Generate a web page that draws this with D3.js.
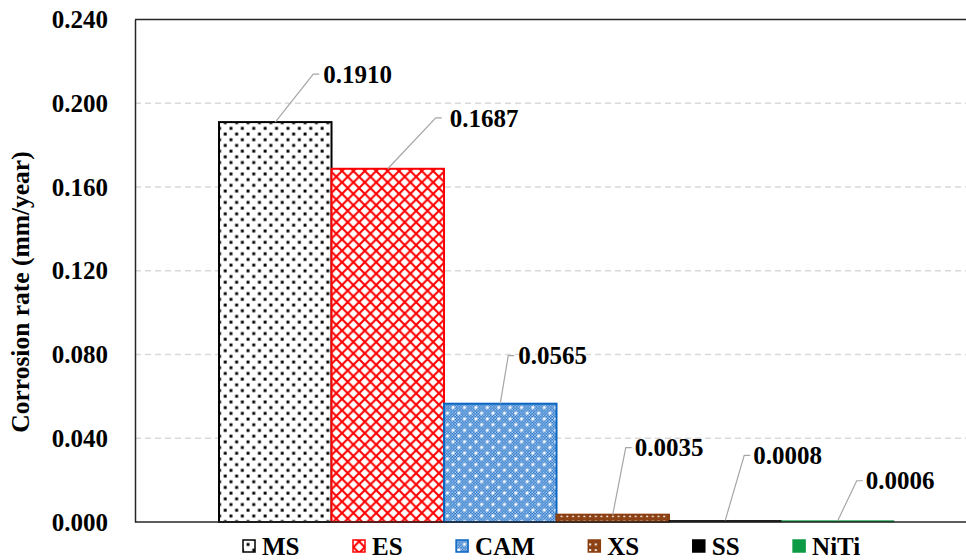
<!DOCTYPE html>
<html>
<head>
<meta charset="utf-8">
<script src="https://cdn.jsdelivr.net/npm/d3@7"></script>
<style>
  html, body { margin: 0; padding: 0; background: #fff; overflow: hidden; }
  svg { display: block; }
</style>
</head>
<body>
<svg id="chart" width="966" height="560"></svg>
<script>
// ---------------- DATA ----------------
const categories = ["MS", "ES", "CAM", "XS", "SS", "NiTi"];
const corrosionRates = [0.1910, 0.1687, 0.0565, 0.0035, 0.0008, 0.0006];
const valueLabels = ["0.1910", "0.1687", "0.0565", "0.0035", "0.0008", "0.0006"];
const yTicks = [0.000, 0.040, 0.080, 0.120, 0.160, 0.200, 0.240];
const yTitle = "Corrosion rate (mm/year)";

// ---------------- LAYOUT / STYLE ----------------
const W = 966, H = 560;
const plot = { left: 135, top: 19.5, right: 978, bottom: 522 };
const fontFam = "'Liberation Serif', 'Times New Roman', serif";
const seriesStyle = {
  MS:   { pattern: "pat-ms",  stroke: "#000000" },
  ES:   { pattern: "pat-es",  stroke: "#ff0000" },
  CAM:  { pattern: "pat-cam", stroke: "#0a66c2" },
  XS:   { pattern: "pat-xs",  stroke: "#8a3e10" },
  SS:   { fill: "#000000",    stroke: "#000000" },
  NiTi: { fill: "#0d9a45",    stroke: "#0d9a45" }
};
// leader elbow offsets (px) relative to bar top-center, and gap to text
const labelOffsets = {
  MS:   { dx: 38,   dy: -48, gap: 10 },
  ES:   { dx: 48,   dy: -51, gap: 14 },
  CAM:  { dx: 8,    dy: -48, gap: 10 },
  XS:   { dx: 13,   dy: -67, gap: 9 },
  SS:   { dx: 19,   dy: -65, gap: 9 },
  NiTi: { dx: 19,   dy: -40, gap: 9 }
};

const svg = d3.select("#chart");

// ---------------- PATTERNS ----------------
const defs = svg.append("defs");
const T = 11.4;

// MS: white with staggered black dots
(function () {
  const p = defs.append("pattern").attr("id", "pat-ms")
    .attr("patternUnits", "userSpaceOnUse").attr("width", T).attr("height", T);
  p.append("rect").attr("width", T).attr("height", T).attr("fill", "#fff");
  [[0, 0], [T / 2, T / 2]].forEach(([x, y]) => {
    p.append("rect").attr("x", x + 1.5).attr("y", y + 1.5).attr("width", 2.9).attr("height", 2.9).attr("fill", "#000");
  });
})();

// ES: white with red diamond lattice
(function () {
  const p = defs.append("pattern").attr("id", "pat-es")
    .attr("patternUnits", "userSpaceOnUse").attr("width", T).attr("height", T);
  p.append("rect").attr("width", T).attr("height", T).attr("fill", "#fff");
  p.append("path").attr("d", `M0,0L${T},${T}M${T},0L0,${T}`)
    .attr("stroke", "#ff0000").attr("stroke-width", 2.1).attr("fill", "none");
})();

// CAM: blue with fine white checker and larger white dots
(function () {
  const p = defs.append("pattern").attr("id", "pat-cam")
    .attr("patternUnits", "userSpaceOnUse").attr("width", T).attr("height", T);
  p.append("rect").attr("width", T).attr("height", T).attr("fill", "#1a6bc4");
  const n = 4, s = T / n;
  for (let i = 0; i < n; i++) {
    for (let j = 0; j < n; j++) {
      p.append("rect").attr("x", i * s + s / 2).attr("y", j * s + s / 2)
        .attr("width", 1.4).attr("height", 1.4).attr("fill", "#cfe3f8");
      p.append("rect").attr("x", i * s).attr("y", j * s)
        .attr("width", 1.4).attr("height", 1.4).attr("fill", "#a0c7ee");
    }
  }
  [[0, 0], [T / 2, T / 2]].forEach(([x, y]) => {
    p.append("rect").attr("x", x + 1.4).attr("y", y + 1.4).attr("width", 2.8).attr("height", 2.8).attr("fill", "#fff");
  });
})();

// XS: brown with white dots
(function () {
  const t = T / 2;
  const p = defs.append("pattern").attr("id", "pat-xs")
    .attr("patternUnits", "userSpaceOnUse").attr("width", t).attr("height", t);
  p.append("rect").attr("width", t).attr("height", t).attr("fill", "#8c4214");
  p.append("rect").attr("x", 2).attr("y", 2).attr("width", 2).attr("height", 2).attr("fill", "#fff");
})();

function fillOf(name) {
  const s = seriesStyle[name];
  return s.pattern ? `url(#${s.pattern})` : s.fill;
}

// ---------------- SCALES ----------------
const x = d3.scaleBand().domain(categories)
  .range([plot.left, plot.right]).paddingInner(0).paddingOuter(0.747);
const y = d3.scaleLinear().domain([0, 0.24]).range([plot.bottom, plot.top]);

// ---------------- GRIDLINES ----------------
svg.append("g").selectAll("line")
  .data(yTicks.filter(d => d > 0 && d < 0.24))
  .join("line")
  .attr("x1", plot.left).attr("x2", plot.right)
  .attr("y1", d => y(d)).attr("y2", d => y(d))
  .attr("stroke", "#d9d9d9").attr("stroke-width", 1.5)
  .attr("stroke-dasharray", "6,4");

// ---------------- BARS ----------------
const data = categories.map((c, i) => ({ name: c, value: corrosionRates[i], label: valueLabels[i] }));
svg.append("g").selectAll("rect")
  .data(data)
  .join("rect")
  .attr("x", d => x(d.name))
  .attr("y", d => y(d.value))
  .attr("width", x.bandwidth())
  .attr("height", d => y(0) - y(d.value))
  .attr("fill", d => fillOf(d.name))
  .attr("stroke", d => seriesStyle[d.name].stroke)
  .attr("stroke-width", d => (y(0) - y(d.value)) > 4 ? 2 : 0.6);

// ---------------- FRAME / AXES ----------------
svg.append("line")
  .attr("x1", plot.left).attr("x2", plot.right)
  .attr("y1", plot.top).attr("y2", plot.top)
  .attr("stroke", "#262626").attr("stroke-width", 1.5);

svg.append("line")
  .attr("x1", plot.left).attr("x2", plot.right)
  .attr("y1", plot.bottom).attr("y2", plot.bottom)
  .attr("stroke", "#262626").attr("stroke-width", 1.5);

const yAxis = svg.append("g")
  .attr("transform", `translate(${plot.left},0)`)
  .call(d3.axisLeft(y).tickValues(yTicks).tickFormat(d3.format(".3f"))
    .tickSize(0).tickSizeOuter(0).tickPadding(27));
yAxis.select(".domain").attr("stroke", "#262626").attr("stroke-width", 1.5);
yAxis.selectAll("text")
  .attr("font-family", fontFam).attr("font-weight", "bold")
  .attr("font-size", 25).attr("fill", "#000");

// Y title
svg.append("text")
  .attr("transform", `translate(29,292) rotate(-90)`)
  .attr("text-anchor", "middle")
  .attr("font-family", fontFam).attr("font-weight", "bold")
  .attr("font-size", 25.5).attr("fill", "#000")
  .text(yTitle);

// ---------------- VALUE LABELS WITH LEADERS ----------------
const lab = svg.append("g");
data.forEach(d => {
  const cx = x(d.name) + x.bandwidth() / 2;
  const top = y(d.value);
  const o = labelOffsets[d.name];
  const ex = cx + o.dx, ey = top + o.dy;
  lab.append("path")
    .attr("d", `M${cx},${top}L${ex},${ey}L${ex + 6},${ey}`)
    .attr("fill", "none").attr("stroke", "#a6a6a6").attr("stroke-width", 1.2);
  lab.append("text")
    .attr("x", ex + o.gap).attr("y", ey)
    .attr("dy", "0.35em")
    .attr("font-family", fontFam).attr("font-weight", "bold")
    .attr("font-size", 25).attr("fill", "#000")
    .text(d.label);
});

// ---------------- LEGEND ----------------
const legend = svg.append("g");
let lx = 243;
const ly = 546;
data.forEach(d => {
  const g = legend.append("g");
  g.append("rect")
    .attr("x", lx).attr("y", ly - 6).attr("width", 12).attr("height", 12)
    .attr("fill", fillOf(d.name))
    .attr("stroke", seriesStyle[d.name].stroke).attr("stroke-width", 1.5);
  const t = g.append("text")
    .attr("x", lx + 19).attr("y", ly).attr("dy", "0.35em")
    .attr("font-family", fontFam).attr("font-weight", "bold")
    .attr("font-size", 25).attr("fill", "#000")
    .text(d.name);
  const w = t.node().getComputedTextLength();
  lx += 19 + w + 53.5;
});
</script>
</body>
</html>
